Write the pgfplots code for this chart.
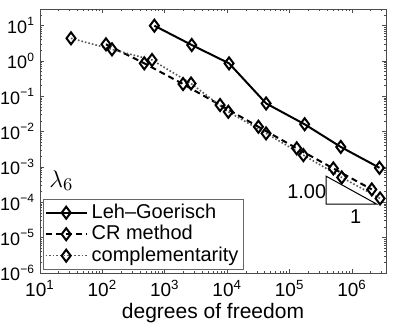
\documentclass[border=0pt]{standalone}
\usepackage{pgfplots}
\pgfplotsset{compat=1.18}
\usepackage{fontspec}
\setmainfont{Liberation Sans}

\begin{document}
\begin{tikzpicture}
\begin{axis}[
    name=ax,
    xmode=log, ymode=log,
    scale only axis,
    width=173pt, height=132pt,
    xmin=10, xmax=3.5e6,
    ymin=1e-6, ymax=29.7,
    xtick={1e1,1e2,1e3,1e4,1e5,1e6},
    xticklabels={10\textsuperscript{1},10\textsuperscript{2},10\textsuperscript{3},10\textsuperscript{4},10\textsuperscript{5},10\textsuperscript{6}},
    minor xtick={20,30,40,50,60,70,80,90,200,300,400,500,600,700,800,900,
        2e3,3e3,4e3,5e3,6e3,7e3,8e3,9e3,2e4,3e4,4e4,5e4,6e4,7e4,8e4,9e4,
        2e5,3e5,4e5,5e5,6e5,7e5,8e5,9e5,2e6,3e6},
    ytick={1e-6,1e-5,1e-4,1e-3,1e-2,1e-1,1e0,1e1},
    yticklabels={10\textsuperscript{−6},10\textsuperscript{−5},10\textsuperscript{−4},10\textsuperscript{−3},10\textsuperscript{−2},10\textsuperscript{−1},10\textsuperscript{0},10\textsuperscript{1}},
    minor ytick={2e-6,3e-6,4e-6,5e-6,6e-6,7e-6,8e-6,9e-6,
        2e-5,3e-5,4e-5,5e-5,6e-5,7e-5,8e-5,9e-5,
        2e-4,3e-4,4e-4,5e-4,6e-4,7e-4,8e-4,9e-4,
        2e-3,3e-3,4e-3,5e-3,6e-3,7e-3,8e-3,9e-3,
        0.02,0.03,0.04,0.05,0.06,0.07,0.08,0.09,
        0.2,0.3,0.4,0.5,0.6,0.7,0.8,0.9,2,3,4,5,6,7,8,9,20},
    xticklabel style={font=\fontsize{9.5}{10}\selectfont},
    yticklabel style={font=\fontsize{9}{10}\selectfont, xshift=1pt},
    xlabel={degrees of freedom},
    xlabel style={font=\fontsize{10.5}{11}\selectfont, yshift=4pt},
    major tick length=2pt, minor tick length=1.2pt,
    axis line style={black!70},
    every tick/.style={black!70},
    legend style={at={(0.0095,0.012)}, anchor=south west,
        font=\fontsize{10}{10}\selectfont, draw=black!60,
        inner sep=0.5pt, row sep=-2pt, cells={anchor=west}},
    legend image code/.code={\draw[mark repeat=2,mark phase=2] plot coordinates {(0cm,0cm)(0.36cm,0cm)(0.72cm,0cm)};},
]
\addplot[black, line width=1pt, mark=diamond, mark size=3pt,
    mark options={solid, fill=white, line width=1pt}] coordinates {
    (680,10) (2700,2.84) (10700,0.86) (42000,0.063)
    (174000,0.0162) (660000,0.0037) (2.75e6,9.5e-4)
};
\addplot[black, line width=1pt, dash pattern=on 3pt off 2pt, mark=diamond, mark size=3pt,
    mark options={solid, fill=white, line width=1pt}] coordinates {
    (114,2.97) (469,0.861) (1960,0.223) (7670,0.0568)
    (31600,0.01377) (130000,0.00337) (501000,9.12e-4) (2.07e6,2.32e-4)
};
\addplot[black!65, line width=0.8pt, densely dotted, mark=diamond, mark size=3pt,
    mark options={solid, black, fill=white, line width=1pt}] coordinates {
    (31.4,4.40) (142.5,2.14) (624,1.07) (2630,0.231) (10400,0.0366)
    (41900,0.00895) (166000,0.00217) (684000,5.07e-4) (2.81e6,1.29e-4)
};
\legend{Leh--Goerisch, CR method, complementarity}
\node at (rel axis cs:0.062,0.35) {\fontsize{13}{14}\selectfont$\lambda_6$};
\draw[black, line width=0.5pt] (axis cs:3.83e5,5.52e-4) -- (axis cs:3.83e5,8.9e-5)
    -- (axis cs:2.49e6,8.9e-5) -- cycle;
\node[font=\fontsize{10}{11}\selectfont] at (axis cs:1.88e5,1.98e-4) {1.00};
\node[font=\fontsize{10}{11}\selectfont] at (axis cs:1.146e6,3.89e-5) {1};
\end{axis}
\pgfresetboundingbox
\path ([xshift=-20pt,yshift=-25.5pt]ax.south west) rectangle ([xshift=4.5pt,yshift=4.5pt]ax.north east);
\end{tikzpicture}
\end{document}
